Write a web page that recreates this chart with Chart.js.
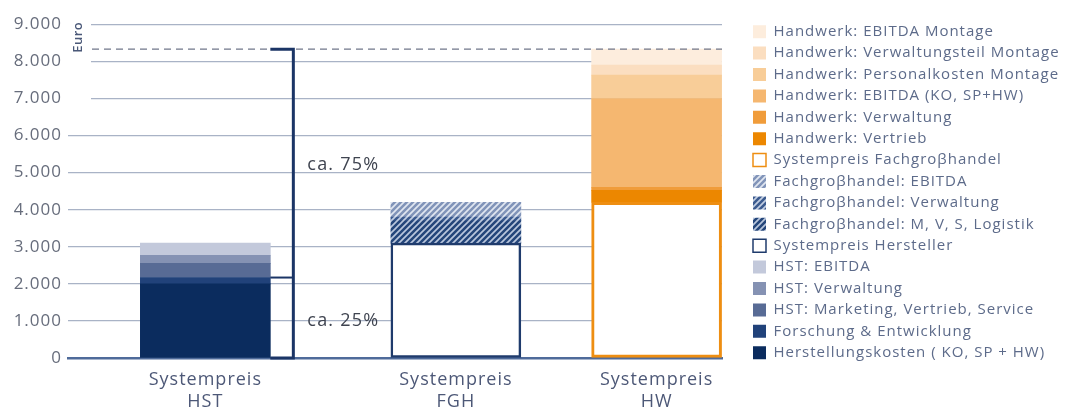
<!DOCTYPE html>
<html>
<head>
<meta charset="utf-8">
<script src="https://cdn.jsdelivr.net/npm/chart.js@4.4.1/dist/chart.umd.min.js"></script>
<style>
  html, body { margin: 0; padding: 0; background: #fff; }
  #wrap { width: 1071px; height: 412px; }
</style>
</head>
<body>
<div id="wrap"><canvas id="chart"></canvas></div>
<script>
// categories (x axis) and y tick labels
const categories = [['Systempreis', 'HST'], ['Systempreis', 'FGH'], ['Systempreis', 'HW']];
const yTickLabels = ['0', '1.000', '2.000', '3.000', '4.000', '5.000', '6.000', '7.000', '8.000', '9.000'];

// series, bottom of the stack first (Euro per bar)
const herstellungskosten    = [2000, null, null];
const forschungEntwicklung  = [170, null, null];
const hstMarketing          = [380, null, null];
const hstVerwaltung         = [220, null, null];
const hstEbitda             = [330, null, null];
const systempreisHersteller = [null, 3100, null];
const fghLogistik           = [null, 600, null];
const fghVerwaltung         = [null, 100, null];
const fghEbitda             = [null, 400, null];
const systempreisFgh        = [null, null, 4200];
const hwVertrieb            = [null, null, 320];
const hwVerwaltung          = [null, null, 80];
const hwEbitda              = [null, null, 2400];
const hwPersonalMontage     = [null, null, 630];
const hwVerwaltungMontage   = [null, null, 270];
const hwEbitdaMontage       = [null, null, 430];

// layout: where the three bars sit on the x scale (uneven gaps)
const barSlots = [2.73, 7.71, 11.7];
const X_MAX = 13;
const LEGEND_W = 324.4;

const FONT = 'Open Sans';

function hatch(bg, stripe) {
  const tile = document.createElement('canvas');
  tile.width = tile.height = 6;
  const g = tile.getContext('2d');
  g.fillStyle = bg;
  g.fillRect(0, 0, 6, 6);
  g.strokeStyle = stripe;
  g.lineWidth = 1.7;
  g.beginPath();
  g.moveTo(0, 6); g.lineTo(6, 0);
  g.moveTo(-3, 3); g.lineTo(3, -3);
  g.moveTo(3, 9); g.lineTo(9, 3);
  g.stroke();
  return g.createPattern(tile, 'repeat');
}

function points(values) {
  return values.map((v, i) => ({ x: barSlots[i], y: v }));
}

function series(label, values, color, extra) {
  return Object.assign({
    label: label,
    data: points(values),
    backgroundColor: color,
    borderWidth: 0
  }, extra || {});
}

const datasets = [
  series('Herstellungskosten ( KO, SP + HW)', herstellungskosten, '#0b2c5e'),
  series('Forschung & Entwicklung', forschungEntwicklung, '#21427a'),
  series('HST: Marketing, Vertrieb, Service', hstMarketing, '#586b95'),
  series('HST: Verwaltung', hstVerwaltung, '#8592b3'),
  series('HST: EBITDA', hstEbitda, '#c3c9db'),
  series('Systempreis Hersteller', systempreisHersteller, '#ffffff',
    { borderColor: '#1f3b6c', borderWidth: 2.5, borderSkipped: false }),
  series('Fachgroβhandel: M, V, S, Logistik', fghLogistik, hatch('#24467a', '#b9c6dc')),
  series('Fachgroβhandel: Verwaltung', fghVerwaltung, hatch('#3b5a8e', '#c2cee2')),
  series('Fachgroβhandel: EBITDA', fghEbitda, hatch('#8194b9', '#e0e6f0')),
  series('Systempreis Fachgroβhandel', systempreisFgh, '#ffffff',
    { borderColor: '#ee8e12', borderWidth: 3, borderSkipped: false }),
  series('Handwerk: Vertrieb', hwVertrieb, '#ec8700'),
  series('Handwerk: Verwaltung', hwVerwaltung, '#f09c3a'),
  series('Handwerk: EBITDA (KO, SP+HW)', hwEbitda, '#f5b770'),
  series('Handwerk: Personalkosten Montage', hwPersonalMontage, '#f8cd98'),
  series('Handwerk: Verwaltungsteil Montage', hwVerwaltungMontage, '#fbdec0'),
  series('Handwerk: EBITDA Montage', hwEbitdaMontage, '#fdeddd')
];

const hwTotal = [systempreisFgh, hwVertrieb, hwVerwaltung, hwEbitda, hwPersonalMontage,
  hwVerwaltungMontage, hwEbitdaMontage].reduce((s, a) => s + a[2], 0);
const hstSplit = herstellungskosten[0] + forschungEntwicklung[0];

const overlay = {
  id: 'overlay',
  beforeUpdate(chart) { chart.ctx.letterSpacing = '1px'; },
  beforeLayout(chart) {
    // the layout caps a side legend at a fraction of the width; this one is wider
    const legend = chart.legend;
    if (legend && !legend._wide) {
      const update = legend.update;
      legend.update = function (w, h, m) {
        update.call(this, LEGEND_W, h, m);
        this.width = LEGEND_W;
      };
      legend._wide = true;
    }
  },
  beforeDraw(chart) { chart.ctx.letterSpacing = '1px'; },
  beforeDatasetsDraw(chart) {
    // room for the "Euro" label: grid lines start further right at the top
    const { ctx, chartArea, scales: { y } } = chart;
    ctx.save();
    ctx.fillStyle = '#ffffff';
    ctx.fillRect(chartArea.left - 1, chartArea.top - 4, 24, y.getPixelForValue(6500) - chartArea.top);
    ctx.restore();
  },
  afterDatasetsDraw(chart) {
    const { ctx, chartArea, scales: { y } } = chart;
    const bar = chart.getDatasetMeta(0).data[0];
    const barRight = bar.x + bar.width / 2;
    const bx = barRight + 23;
    const topY = y.getPixelForValue(hwTotal);
    const splitY = y.getPixelForValue(hstSplit);
    const baseY = y.getPixelForValue(0);

    ctx.save();
    ctx.strokeStyle = '#70778a';
    ctx.lineWidth = 1.3;
    ctx.setLineDash([7, 5]);
    ctx.beginPath();
    ctx.moveTo(chartArea.left + 24, topY);
    ctx.lineTo(chartArea.right, topY);
    ctx.stroke();
    ctx.setLineDash([]);

    ctx.strokeStyle = '#1b3566';
    ctx.lineWidth = 3;
    ctx.beginPath();
    ctx.moveTo(barRight, topY);
    ctx.lineTo(bx, topY);
    ctx.lineTo(bx, baseY);
    ctx.lineTo(barRight, baseY);
    ctx.stroke();
    ctx.lineWidth = 2;
    ctx.beginPath();
    ctx.moveTo(barRight, splitY);
    ctx.lineTo(bx, splitY);
    ctx.stroke();

    ctx.fillStyle = '#3f4450';
    ctx.font = '18px "' + FONT + '"';
    ctx.letterSpacing = '1.2px';
    ctx.textBaseline = 'middle';
    ctx.textAlign = 'left';
    ctx.fillText('ca. 75%', bx + 14, y.getPixelForValue((hwTotal + hstSplit) / 2) + 2);
    ctx.fillText('ca. 25%', bx + 14, y.getPixelForValue(hstSplit / 2) + 3);

    ctx.translate(chartArea.left + 10, chartArea.top + 13);
    ctx.rotate(-Math.PI / 2);
    ctx.font = '600 13px "' + FONT + '"';
    ctx.letterSpacing = '0.5px';
    ctx.fillStyle = '#4a5878';
    ctx.textAlign = 'center';
    ctx.fillText('Euro', 0, 0);
    ctx.restore();
  }
};

new Chart(document.getElementById('chart'), {
  type: 'bar',
  data: { datasets: datasets },
  options: {
    responsive: true,
    maintainAspectRatio: false,
    animation: false,
    barThickness: 130,
    layout: { padding: { top: 17.8, right: 0, bottom: 0, left: 0 } },
    plugins: {
      tooltip: { enabled: false },
      legend: {
        position: 'right',
        align: 'start',
        reverse: true,
        labels: {
          boxWidth: 13,
          boxHeight: 13,
          padding: 6.4,
          color: '#5d6b8a',
          font: { family: FONT, size: 15 },
          generateLabels(chart) {
            const items = Chart.defaults.plugins.legend.labels.generateLabels(chart);
            items.forEach(it => { it.lineWidth = it.lineWidth ? 1.5 : 0; });
            return items;
          }
        }
      }
    },
    scales: {
      x: {
        type: 'linear',
        min: 0,
        max: X_MAX,
        offset: false,
        stacked: true,
        afterBuildTicks(scale) { scale.ticks = barSlots.map(v => ({ value: v })); },
        afterFit(scale) { scale.height = 54; },
        ticks: {
          autoSkip: false,
          maxRotation: 0,
          padding: 11,
          color: '#4d5877',
          font: { family: FONT, size: 18, lineHeight: 1.22 },
          callback: (v, i) => categories[i]
        },
        grid: { display: false, drawTicks: false, offset: false },
        border: { color: '#4f6b9a', width: 2.5 }
      },
      y: {
        min: 0,
        max: 9000,
        stacked: true,
        afterFit(scale) { scale.width = 68; scale.paddingTop = 24.3; },
        ticks: {
          stepSize: 1000,
          padding: 6,
          color: '#676d7c',
          font: { family: FONT, size: 17 },
          callback: v => yTickLabels[Math.round(v / 1000)]
        },
        grid: {
          drawTicks: false,
          lineWidth: 1.3,
          color: c => (c.tick && c.tick.value === 0) ? 'rgba(0,0,0,0)' : '#a9b3c6'
        },
        border: { display: false }
      },
      gap: {
        type: 'linear',
        position: 'right',
        afterFit(scale) { scale.width = 24.6; },
        ticks: { display: false },
        grid: { display: false, drawTicks: false },
        border: { display: false }
      }
    }
  },
  plugins: [overlay]
});
</script>
</body>
</html>
